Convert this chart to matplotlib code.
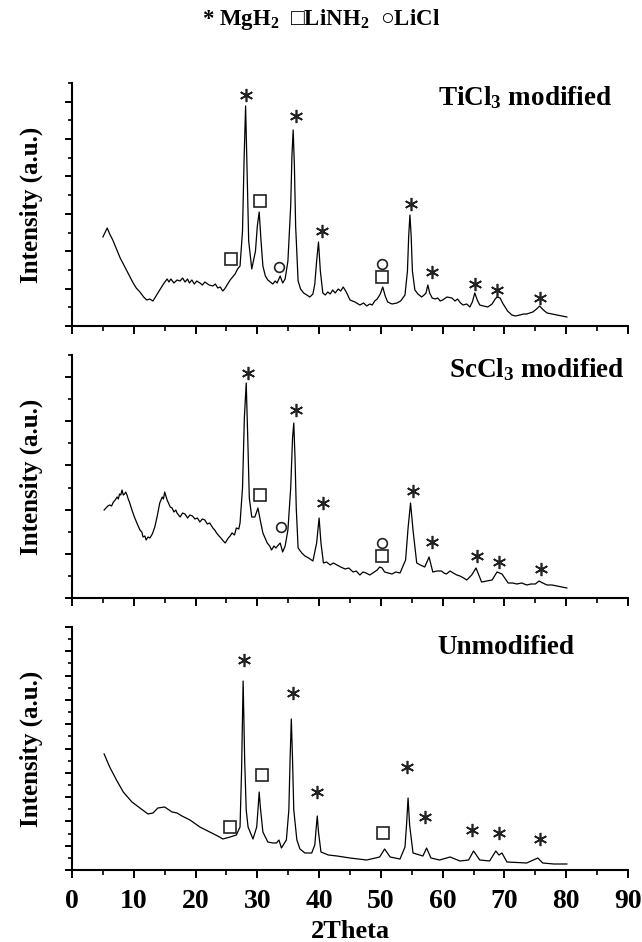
import numpy as np
import matplotlib
matplotlib.use("Agg")
import matplotlib.pyplot as plt

plt.rcParams['font.family'] = ['Liberation Serif', 'DejaVu Sans']
plt.rcParams['font.weight'] = 'bold'
plt.rcParams['mathtext.fontset'] = 'custom'
plt.rcParams['mathtext.rm'] = 'Liberation Serif:bold'
plt.rcParams['mathtext.bf'] = 'Liberation Serif:bold'
plt.rcParams['mathtext.it'] = 'Liberation Serif:italic:bold'
plt.rcParams['mathtext.default'] = 'rm'

# ---- data (2Theta, intensity a.u.) ----
ti_x = [5.0, 5.4, 5.7, 6.1, 6.6, 7.2, 7.8, 8.3, 8.8, 9.3, 9.9, 10.4, 11.0, 11.6, 12.1, 12.6,
        13.1, 13.6, 14.2, 14.8, 15.4, 15.7, 16.0, 16.5, 17.0, 17.5, 17.9, 18.3, 18.7, 19.0,
        19.4, 19.8, 20.2, 20.7, 21.1, 21.5, 22.2, 22.8, 23.2, 23.6, 24.0, 24.4, 24.7, 25.0,
        25.3, 25.6, 26.0, 26.4, 26.8, 27.2, 27.6, 27.85, 28.1,
        28.35, 28.6, 29.1, 29.7, 30.0, 30.3, 30.6, 30.9, 31.3, 31.7, 32.1, 32.5, 32.9, 33.2,
        33.7, 34.1, 34.5, 34.95,
        35.4, 35.6, 35.8, 36.0, 36.2, 36.6, 37.0, 37.5, 38.0, 38.5, 39.0, 39.3, 39.6, 39.9,
        40.2, 40.6, 41.0, 41.4, 41.8, 42.2, 42.6, 43.1, 43.5, 43.9, 44.4, 45.0, 45.8, 46.6,
        47.2, 47.7, 48.2, 48.6, 49.0, 49.4, 49.9, 50.3, 50.7, 51.1, 51.8, 52.6, 53.2,
        53.9, 54.3, 54.5, 54.7, 54.9, 55.1, 55.5, 56.0, 56.6, 57.0, 57.3, 57.6, 57.9, 58.3,
        58.8, 59.2, 59.6, 60.0, 60.7, 61.5, 62.0, 62.4, 62.9, 63.3, 63.9, 64.4, 64.8, 65.2,
        65.6, 66.0, 66.6, 67.3, 68.0, 68.5, 68.8, 69.3, 69.7, 70.1, 70.5, 71.2, 71.8, 72.5,
        73.1, 73.6, 74.1, 74.6, 75.2, 75.7, 76.3, 76.9, 77.7, 78.5, 79.3, 80.1]
ti_y = [89, 94, 98, 92, 86, 77, 68, 62, 56, 50, 43, 38, 34, 29, 26, 27,
        25, 30, 36, 42, 47, 44, 47, 43, 46, 45, 48, 44, 47, 43,
        46, 42, 45, 43, 41, 44, 41, 40, 42, 38, 39, 35, 37, 40,
        43, 46, 49, 52, 57, 60, 95, 165, 220,
        150, 85, 57, 75, 100, 114, 85, 60, 50, 46, 44, 42, 45, 43,
        50, 43, 47, 65,
        120, 170, 196, 160, 100, 45, 37, 33, 31, 29, 32, 42, 65, 84,
        55, 33, 31, 34, 32, 36, 33, 37, 35, 39, 34, 26, 24, 21,
        23, 20, 22, 21, 25, 27, 32, 39, 30, 24, 22, 23, 25,
        31, 55, 90, 111, 90, 55, 36, 32, 29, 31, 33, 41, 33, 28,
        27, 28, 25, 26, 29, 28, 25, 27, 23, 21, 22, 19, 24, 33,
        26, 21, 20, 19, 22, 27, 29, 28, 23, 19, 15, 11, 10, 11,
        12, 12, 13, 14, 17, 20, 16, 13, 12, 11, 10, 9]

sc_x = [5.2, 5.5, 5.8, 6.1, 6.4, 6.7, 7.0, 7.3, 7.5, 7.7, 7.9, 8.1, 8.3, 8.5, 8.7, 8.9, 9.1,
        9.3, 9.7, 10.1, 10.5, 11.0, 11.3, 11.5, 11.8, 12.0, 12.3, 12.6,
        13.0, 13.4, 13.8, 14.2, 14.6, 14.8, 15.0, 15.2, 15.4, 15.9, 16.2, 16.5, 16.8, 17.0,
        17.5, 17.9, 18.3, 18.7, 19.1, 19.5, 19.9,
        20.3, 20.7, 21.1, 21.5, 21.9, 22.3, 22.8, 23.1, 23.4, 23.8, 24.1, 24.5, 24.8, 25.3,
        25.6, 25.9, 26.3, 26.6, 27.0, 27.2, 27.6, 27.9, 28.2,
        28.45, 28.7, 29.1, 29.6, 30.1, 30.5, 30.9, 31.6, 32.0, 32.3, 32.7, 33.0, 33.4, 33.7,
        34.1, 34.5, 34.95, 35.4,
        35.7, 35.9, 36.1, 36.3, 36.6, 37.2, 37.7, 38.3, 39.0, 39.6, 40.0, 40.3, 40.7, 41.2,
        41.8, 42.3, 42.9, 43.5, 44.2, 44.8, 45.5, 46.0, 46.6, 47.1, 47.6, 48.2, 48.7, 49.4,
        49.8, 50.2, 50.6, 51.2, 51.8, 52.4, 53.1, 54.0, 54.4, 54.8, 55.2,
        55.8, 56.4, 57.1, 57.8, 58.4, 59.1, 59.8, 60.2, 60.6, 61.2, 61.7, 62.3, 62.8, 63.4,
        63.9, 64.7, 65.4, 66.3, 67.2, 68.0, 68.8,
        69.2, 69.6, 70.6, 71.3, 72.0, 72.8, 73.6, 74.3, 75.0, 75.6, 76.2, 76.9, 77.7, 78.5,
        79.3, 80.1]
sc_y = [88, 90, 92, 93, 92, 96, 98, 101, 99, 104, 103, 108, 103, 104, 106, 103, 99,
        96, 88, 81, 75, 68, 66, 61, 62, 58, 61, 60,
        64, 71, 82, 95, 101, 99, 106, 102, 98, 91, 90, 86, 88, 85,
        81, 85, 84, 80, 83, 82, 79,
        80, 76, 79, 78, 74, 75, 70, 68, 65, 62, 60, 57, 55, 60,
        62, 65, 63, 70, 69, 75, 110, 180, 215,
        160, 100, 81, 81, 90, 77, 65, 55, 52, 48, 52, 50, 53, 55,
        46, 52, 68, 110,
        160, 175, 140, 90, 50, 45, 42, 40, 37, 55, 80, 55, 35, 36,
        33, 35, 33, 31, 29, 30, 26, 27, 23, 26, 25, 23, 25, 28,
        31, 30, 26, 25, 24, 26, 25, 38, 70, 95, 68,
        35, 33, 31, 41, 26, 27, 27, 25, 24, 27, 25, 23, 22, 20,
        18, 23, 30, 16, 17, 18, 26,
        25, 24, 15, 15, 14, 15, 13, 14, 14, 17, 15, 13, 13, 12,
        11, 10]

un_x = [5.2, 6.1, 7.2, 8.3, 9.7, 11.0, 12.3, 13.1, 13.9, 15.0, 16.2, 17.0, 17.8, 19.1, 20.7,
        22.3, 23.9, 24.4, 25.0, 25.6, 26.6, 27.2, 27.45, 27.7, 27.95, 28.2, 28.5, 29.3, 29.9,
        30.1, 30.3, 30.5, 30.9, 31.7, 32.5, 33.1, 33.5, 33.9, 34.7, 35.1, 35.3, 35.5, 35.7,
        35.9, 36.4, 36.9, 37.7, 38.8, 39.3, 39.5, 39.7, 39.9, 40.3, 41.5, 42.9, 45.0, 47.7,
        49.8, 50.6, 51.5, 53.1, 53.9, 54.15, 54.4, 54.65, 55.2, 56.8, 57.4, 58.1, 59.5, 61.2,
        62.8, 64.2, 65.0, 66.0, 67.6, 68.6, 69.1, 69.6, 70.4, 73.6, 75.4, 76.2, 78.0, 80.1]
un_y = [116, 103, 90, 78, 68, 62, 56, 57, 62, 63, 58, 57, 54, 50, 43,
        38, 33, 31, 32, 33, 35, 43, 100, 189, 110, 60, 43, 31, 43,
        60, 78, 62, 38, 28, 27, 27, 30, 22, 30, 60, 110, 151, 110,
        60, 30, 21, 17, 17, 25, 40, 54, 38, 18, 15, 14, 12, 10,
        13, 21, 13, 11, 23, 45, 72, 45, 17, 14, 22, 12, 10, 13,
        9, 10, 19, 10, 9, 19, 15, 17, 8, 7, 12, 7, 6, 6]

# phase markers (2Theta, height)
ti_star = [(28.1, 231), (36.2, 210), (40.5, 95), (54.8, 122), (58.2, 54), (65.2, 42), (68.8, 36), (75.7, 28)]
ti_sq = [(25.8, 67), (30.4, 125), (50.2, 49)]
ti_circ = [(33.5, 59), (50.2, 62)]

sc_star = [(28.5, 225), (36.3, 188), (40.6, 95), (55.2, 107), (58.3, 56), (65.5, 42), (69.1, 36), (75.9, 29)]
sc_sq = [(30.5, 103), (50.1, 42)]
sc_circ = [(33.8, 71), (50.1, 55)]

un_star = [(27.8, 210), (35.8, 177), (39.7, 78), (54.3, 103), (57.2, 53), (64.8, 40), (69.1, 37), (75.7, 31)]
un_sq = [(25.6, 43), (30.7, 95), (50.3, 37)]
un_circ = []

panels = [
    (ti_x, ti_y, ti_star, ti_sq, ti_circ, r'TiCl$_{3}$ modified', 0.971, 0.94, 13),
    (sc_x, sc_y, sc_star, sc_sq, sc_circ, r'ScCl$_{3}$ modified', 0.993, 0.938, 11),
    (un_x, un_y, un_star, un_sq, un_circ, 'Unmodified', 0.903, 0.914, 20),
]

W, H = 642, 942
fig = plt.figure(figsize=(W / 100, H / 100), dpi=100)
bottoms = [326, 598, 870]
ymax = 243

for i, (x, y, st, sq, ci, label, lx, ly, nticks) in enumerate(panels):
    ax = fig.add_axes([72 / W, (H - bottoms[i]) / H, 556 / W, ymax / H])
    ax.plot(x, y, color='black', lw=0.9)
    for pts, mk, ms in [(st, (6, 2, 0), 9.5), (sq, 's', 8.5), (ci, 'o', 7)]:
        if pts:
            px, py = zip(*pts)
            ax.plot(px, py, ls='none', marker=mk, ms=ms, mfc='none', mec='#222222', mew=1.2)
    ax.text(lx, ly, label, transform=ax.transAxes, ha='right', va='center', fontsize=19.5,
            fontweight='bold')
    ax.set_xlim(0, 90)
    ax.set_ylim(0, ymax)
    ax.set_xticks(np.arange(0, 91, 10))
    ax.set_xticks(np.arange(5, 90, 10), minor=True)
    yt = np.linspace(0, ymax, nticks + 1)
    ax.set_yticks(yt[::2])
    ax.set_yticks(yt[1::2], minor=True)
    ax.set_yticklabels([])
    for s in ['top', 'right']:
        ax.spines[s].set_visible(False)
    for s in ['left', 'bottom']:
        ax.spines[s].set_linewidth(1.5)
    ax.tick_params(which='major', direction='out', length=6, width=1.4)
    ax.tick_params(which='minor', direction='out', length=3.5, width=1.2)
    ax.tick_params(axis='y', which='major', length=5)
    ax.tick_params(axis='y', which='minor', length=3)
    ax.set_ylabel('Intensity (a.u.)', fontsize=18, fontweight='bold')
    ax.yaxis.set_label_coords(-0.053, 0.5)
    if i < 2:
        ax.set_xticklabels([])
    else:
        ax.tick_params(axis='x', labelsize=20, pad=8)
        ax.set_xlabel('2Theta', fontsize=19, fontweight='bold', labelpad=4)

fig.text(0.5, 1 - 20 / H, r'* MgH$_2$  □LiNH$_2$  ○LiCl', ha='center', va='center',
         fontsize=16.5, fontweight='bold')

fig.savefig('out.png', dpi=100)
